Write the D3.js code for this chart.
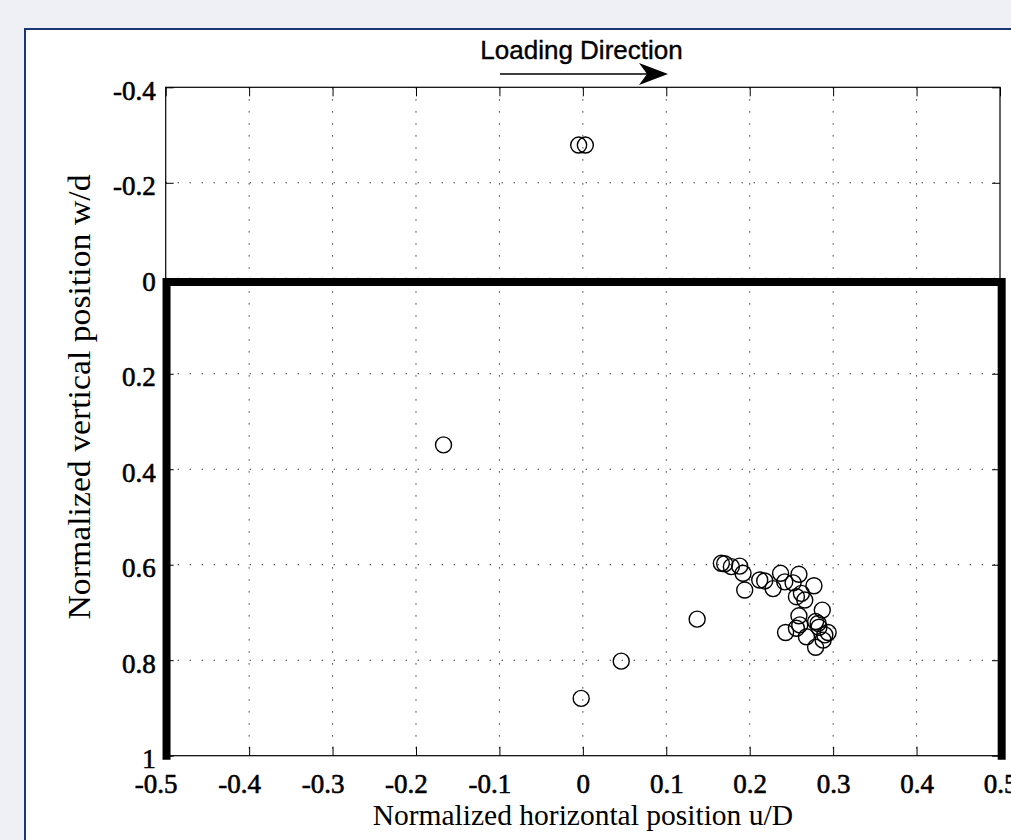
<!DOCTYPE html>
<html>
<head>
<meta charset="UTF-8">
<title>Loading Direction</title>
<script src="https://d3js.org/d3.v7.min.js"></script>
<style>
  body { margin: 0; background: #eef0f5; }
  text { font-family: "Liberation Serif", "Times New Roman", serif; fill: #000; }
  .ann { font-family: "Liberation Sans", Arial, sans-serif; stroke: #000; stroke-width: 0.4px; }
  .tk text { stroke: #000; stroke-width: 0.6px; }
</style>
</head>
<body>
<div id="chart"></div>
<script>
// measured positions (u/D, w/d)
var uVals = [-0.005, 0.003, -0.167, 0.046, -0.002, 0.137,
  0.166, 0.170, 0.178, 0.188, 0.192, 0.194, 0.212, 0.218, 0.228, 0.237,
  0.242, 0.252, 0.259, 0.256, 0.262, 0.266, 0.277, 0.287, 0.259, 0.260,
  0.243, 0.256, 0.268, 0.279, 0.282, 0.283, 0.290, 0.294, 0.279, 0.288];
var wVals = [-0.279, -0.279, 0.349, 0.802, 0.880, 0.714,
  0.597, 0.598, 0.604, 0.603, 0.618, 0.653, 0.632, 0.634, 0.650, 0.618,
  0.636, 0.638, 0.620, 0.667, 0.660, 0.674, 0.644, 0.695, 0.707, 0.726,
  0.742, 0.733, 0.751, 0.719, 0.723, 0.731, 0.747, 0.742, 0.773, 0.758];

var xTicks = [-0.5, -0.4, -0.3, -0.2, -0.1, 0, 0.1, 0.2, 0.3, 0.4, 0.5];
var yTicks = [-0.4, -0.2, 0, 0.2, 0.4, 0.6, 0.8, 1];

// outline of the thick box drawn on the plot
var boxU = [-0.499, -0.499, 0.502, 0.502];
var boxW = [1, 0.008, 0.008, 1];

var width = 1011, height = 840;
var pLeft = 165.7, pRight = 1000, pTop = 87.3, pBottom = 755.7;

var svg = d3.select("#chart").append("svg")
  .attr("width", width)
  .attr("height", height);

// figure panel
svg.append("rect")
  .attr("x", 25).attr("y", 29)
  .attr("width", 1100).attr("height", 900)
  .attr("fill", "#fff")
  .attr("stroke", "#1b3677")
  .attr("stroke-width", 2);

var x = d3.scaleLinear().domain([-0.5, 0.5]).range([pLeft, pRight]);
var y = d3.scaleLinear().domain([-0.4, 1]).range([pTop, pBottom]);

var fmt = function(d) { return d === 0 ? "0" : String(d); };

// grid
var grid = svg.append("g")
  .attr("stroke", "#111")
  .attr("stroke-width", 1)
  .attr("stroke-dasharray", "1.2,10.8");
grid.selectAll(".gx").data(xTicks.slice(1, -1)).enter().append("line")
  .attr("x1", function(d) { return x(d); }).attr("x2", function(d) { return x(d); })
  .attr("y1", pTop).attr("y2", pBottom);
grid.selectAll(".gy").data(yTicks.slice(1, -1)).enter().append("line")
  .attr("y1", function(d) { return y(d); }).attr("y2", function(d) { return y(d); })
  .attr("x1", pLeft).attr("x2", pRight);

// axes box with inward ticks
svg.append("g").attr("class", "tk")
  .attr("transform", "translate(0," + pBottom + ")")
  .call(d3.axisBottom(x).tickValues(xTicks).tickSize(-9).tickPadding(18).tickFormat(fmt))
  .call(function(g) {
    g.select(".domain").remove();
    g.selectAll("text")
      .attr("font-size", 27)
      .attr("font-family", "Liberation Serif")
      .attr("dy", "0.71em")
      .attr("dx", function(d) { return d < 0 ? -10 : 0; });
  });
svg.append("g")
  .attr("transform", "translate(0," + pTop + ")")
  .call(d3.axisTop(x).tickValues(xTicks).tickSize(-9).tickFormat(""))
  .call(function(g) { g.select(".domain").remove(); });
svg.append("g").attr("class", "tk")
  .attr("transform", "translate(" + pLeft + ",0)")
  .call(d3.axisLeft(y).tickValues(yTicks).tickSize(-8).tickPadding(10).tickFormat(fmt))
  .call(function(g) {
    g.select(".domain").remove();
    g.selectAll("text").attr("font-size", 27).attr("font-family", "Liberation Serif").attr("dy", "0.45em");
  });
svg.append("g")
  .attr("transform", "translate(" + pRight + ",0)")
  .call(d3.axisRight(y).tickValues(yTicks).tickSize(-8).tickFormat(""))
  .call(function(g) { g.select(".domain").remove(); });

svg.append("rect")
  .attr("x", pLeft).attr("y", pTop)
  .attr("width", pRight - pLeft).attr("height", pBottom - pTop)
  .attr("fill", "none").attr("stroke", "#000").attr("stroke-width", 1.2);

// thick box
var line = d3.line()
  .x(function(d) { return x(d[0]); })
  .y(function(d) { return y(d[1]); });
svg.append("path")
  .datum(boxU.map(function(u, i) { return [u, boxW[i]]; }))
  .attr("d", line)
  .attr("fill", "none")
  .attr("stroke", "#000")
  .attr("stroke-width", 8)
  .attr("stroke-linecap", "square")
  .attr("stroke-linejoin", "miter");

// markers
svg.append("g").selectAll("circle")
  .data(uVals.map(function(u, i) { return [u, wVals[i]]; }))
  .enter().append("circle")
  .attr("cx", function(d) { return x(d[0]); })
  .attr("cy", function(d) { return y(d[1]); })
  .attr("r", 8)
  .attr("fill", "none")
  .attr("stroke", "#000")
  .attr("stroke-width", 1.4);

// labels
svg.append("text")
  .attr("x", (pLeft + pRight) / 2).attr("y", 825)
  .attr("text-anchor", "middle")
  .attr("font-size", 29.5)
  .text("Normalized horizontal position u/D");
svg.append("text")
  .attr("transform", "translate(90,397) rotate(-90)")
  .attr("text-anchor", "middle")
  .attr("font-size", 31)
  .attr("textLength", 445)
  .attr("lengthAdjust", "spacingAndGlyphs")
  .text("Normalized vertical position w/d");

// loading direction annotation
svg.append("text")
  .attr("class", "ann")
  .attr("x", 581.5).attr("y", 59)
  .attr("text-anchor", "middle")
  .attr("font-size", 26)
  .text("Loading Direction");
svg.append("line")
  .attr("x1", 500).attr("x2", 650)
  .attr("y1", 74).attr("y2", 74)
  .attr("stroke", "#000").attr("stroke-width", 1.5);
svg.append("path")
  .attr("d", "M668,74 L639,63 L647,74 L639,85 Z")
  .attr("fill", "#000");
</script>
</body>
</html>
